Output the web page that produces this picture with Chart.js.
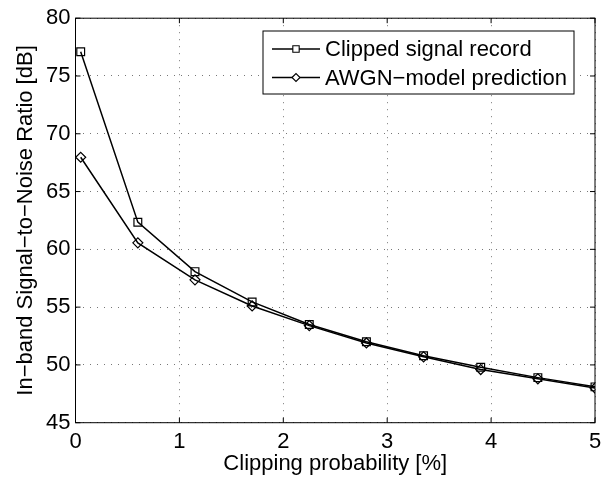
<!DOCTYPE html>
<html>
<head>
<meta charset="utf-8">
<script src="https://cdn.jsdelivr.net/npm/chart.js@4.4.1/dist/chart.umd.min.js"></script>
<style>
  html, body { margin: 0; padding: 0; background: #fff; }
  #wrap { width: 613px; height: 478px; }
</style>
</head>
<body>
<div id="wrap"><canvas id="snrChart" width="613" height="478"></canvas></div>
<script>
// clipping probability [%]
const clipProb = [0.05, 0.6, 1.15, 1.7, 2.25, 2.8, 3.35, 3.9, 4.45, 5.0];
// in-band SNR [dB]
const clippedRecord = [77.1, 62.35, 58.07, 55.45, 53.5, 52.0, 50.8, 49.8, 48.9, 48.1];
const awgnPrediction = [67.97, 60.56, 57.36, 55.1, 53.4, 51.9, 50.7, 49.6, 48.8, 48.0];
const xTicks = [0, 1, 2, 3, 4, 5];
const yTicks = [45, 50, 55, 60, 65, 70, 75, 80];

const seriesNames = ['Clipped signal record', 'AWGN\u2212model prediction'];
const FONT = '"Liberation Sans", Arial, Helvetica, sans-serif';
const FSIZE = 22;

function toPoints(xs, ys) {
    return xs.map((x, i) => ({ x: x, y: ys[i] }));
}

// MATLAB style box, inward ticks and legend inside the axes
const matlabAxes = {
    id: 'matlabAxes',
    afterDraw(chart) {
        const ctx = chart.ctx;
        const a = chart.chartArea;
        const xs = chart.scales.x, ys = chart.scales.y;
        ctx.save();
        ctx.strokeStyle = '#000';
        ctx.lineWidth = 1;
        ctx.setLineDash([]);
        ctx.strokeRect(a.left, a.top, a.right - a.left, a.bottom - a.top);
        const tl = 5;
        ctx.beginPath();
        xTicks.forEach(v => {
            const px = xs.getPixelForValue(v);
            ctx.moveTo(px, a.bottom); ctx.lineTo(px, a.bottom - tl);
            ctx.moveTo(px, a.top); ctx.lineTo(px, a.top + tl);
        });
        yTicks.forEach(v => {
            const py = ys.getPixelForValue(v);
            ctx.moveTo(a.left, py); ctx.lineTo(a.left + tl, py);
            ctx.moveTo(a.right, py); ctx.lineTo(a.right - tl, py);
        });
        ctx.stroke();

        // legend box
        const lx = 263, ly = 31, lw = 311, lh = 63;
        ctx.fillStyle = '#fff';
        ctx.fillRect(lx, ly, lw, lh);
        ctx.strokeRect(lx, ly, lw, lh);
        ctx.font = FSIZE + 'px ' + FONT;
        ctx.textBaseline = 'middle';
        ctx.textAlign = 'left';
        chart.data.datasets.forEach((ds, i) => {
            const rowY = ly + 18 + i * 28.5;
            ctx.lineWidth = 1.3;
            ctx.strokeStyle = '#000';
            ctx.beginPath();
            ctx.moveTo(lx + 9, rowY);
            ctx.lineTo(lx + 57, rowY);
            ctx.stroke();
            ctx.fillStyle = '#fff';
            ctx.lineWidth = 1.1;
            Chart.helpers.drawPoint(ctx, {
                pointStyle: ds.pointStyle,
                radius: ds.pointRadius - 1,
                borderWidth: 1.1
            }, lx + 33, rowY);
            ctx.fillStyle = '#000';
            ctx.fillText(ds.label, lx + 62, rowY + 1);
        });
        ctx.restore();
    }
};

const ctx = document.getElementById('snrChart').getContext('2d');
new Chart(ctx, {
    type: 'line',
    data: {
        datasets: [{
            label: seriesNames[0],
            data: toPoints(clipProb, clippedRecord),
            borderColor: '#000',
            borderWidth: 1.5,
            pointStyle: 'rect',
            pointRadius: 5.5,
            pointBorderWidth: 1.2,
            pointBorderColor: '#000',
            pointBackgroundColor: 'rgba(0,0,0,0)',
            tension: 0
        }, {
            label: seriesNames[1],
            data: toPoints(clipProb, awgnPrediction),
            borderColor: '#000',
            borderWidth: 1.5,
            pointStyle: 'rectRot',
            pointRadius: 5,
            pointBorderWidth: 1.2,
            pointBorderColor: '#000',
            pointBackgroundColor: 'rgba(0,0,0,0)',
            tension: 0
        }]
    },
    options: {
        responsive: false,
        animation: false,
        devicePixelRatio: 1,
        layout: { padding: { top: 14, right: 18, left: 0, bottom: 0 } },
        plugins: {
            legend: { display: false },
            tooltip: { enabled: false }
        },
        scales: {
            x: {
                type: 'linear',
                min: 0,
                max: 5,
                afterFit: s => { s.height = 55.3; },
                afterBuildTicks: s => { s.ticks = xTicks.map(v => ({ value: v })); },
                grid: { color: '#777', lineWidth: 1, drawTicks: false },
                border: { display: false, dash: [1, 6] },
                ticks: { color: '#000', padding: 6, maxRotation: 0, font: { family: FONT, size: FSIZE } },
                title: {
                    display: true,
                    text: 'Clipping probability [%]',
                    color: '#000',
                    padding: { top: 0, bottom: 1 },
                    font: { family: FONT, size: FSIZE }
                }
            },
            y: {
                type: 'linear',
                min: 45,
                max: 80,
                afterFit: s => { s.width = 75.5; },
                afterBuildTicks: s => { s.ticks = yTicks.map(v => ({ value: v })); },
                grid: { color: '#777', lineWidth: 1, drawTicks: false },
                border: { display: false, dash: [1, 6] },
                ticks: { color: '#000', padding: 5, font: { family: FONT, size: FSIZE } },
                title: {
                    display: true,
                    text: 'In\u2212band Signal\u2212to\u2212Noise Ratio [dB]',
                    color: '#000',
                    padding: { top: 13, bottom: 0 },
                    font: { family: FONT, size: FSIZE }
                }
            }
        }
    },
    plugins: [matlabAxes]
});
</script>
</body>
</html>
